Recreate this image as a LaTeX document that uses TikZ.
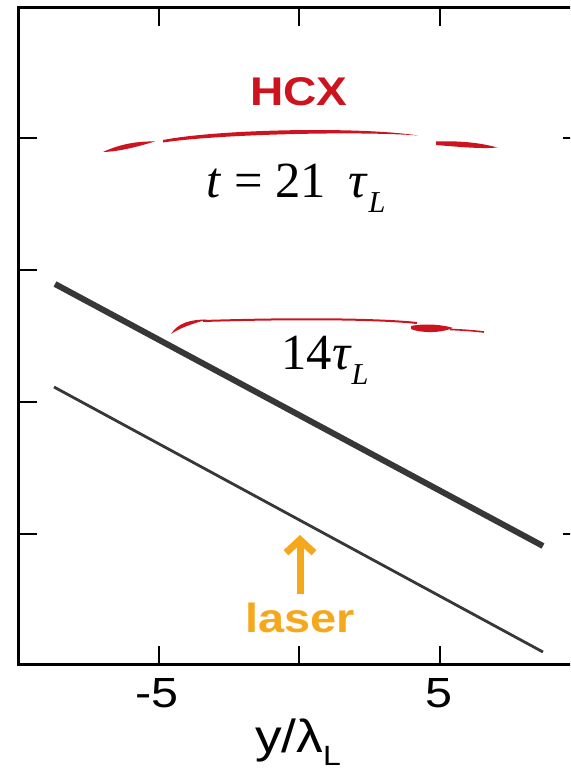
\documentclass[tikz,border=0pt]{standalone}
\usepackage{fontspec}
\setmainfont{Liberation Serif}
\setsansfont{Liberation Sans}
\usetikzlibrary{positioning, arrows.meta}
\definecolor{hcxRed}{RGB}{205, 20, 30}
\definecolor{laserGold}{RGB}{245, 168, 28}
\definecolor{lineGray}{RGB}{55, 55, 55}
\newcommand{\widetext}[1]{\scalebox{1.15}[1]{#1}}
\newcommand{\lowsub}[1]{\raisebox{-0.3em}{\scalebox{0.6}{#1}}}

\begin{document}
\begin{tikzpicture}[x=0.5mm, y=-0.5mm,
    frameline/.style={line width=1.5mm, black},
    tickline/.style={line width=1.2mm, black},
    tickLabel/.style={inner sep=0pt, font=\sffamily\fontsize{60}{66}\selectfont},
    axisLabel/.style={inner sep=0pt, font=\sffamily\fontsize{66}{72}\selectfont},
    timeLabel/.style={inner sep=0pt, font=\rmfamily\fontsize{72}{80}\selectfont},
    hcxLabel/.style={inner sep=0pt, text=hcxRed, font=\sffamily\bfseries\fontsize{57}{62}\selectfont},
    laserLabel/.style={inner sep=0pt, text=laserGold, font=\sffamily\bfseries\fontsize{58}{62}\selectfont},
    laserArrow/.style={line width=3.5mm, laserGold, -{Straight Barb[length=6.5mm, width=14mm]}}]
    \useasboundingbox (0,0) rectangle (570,776);
    \begin{scope}
        \clip (0,0) rectangle (570,776);
        % frame with ticks
        \draw[frameline] (580,8) -- (18,8) -- (18,664) -- (580,664);
        \foreach \x in {159,299,440} {
            \draw[tickline] (\x,8) -- (\x,26);
            \draw[tickline] (\x,664) -- (\x,646);
        }
        \foreach \y in {138,270,402,534}
            \draw[tickline] (18,\y) -- (37,\y);
        \foreach \y in {138,534}
            \draw[tickline] (563,\y) -- (580,\y);
    \end{scope}
    % fronts
    \draw[lineGray, line width=3mm] (55,284) -- (543,546);
    \draw[lineGray, line width=1.4mm] (54,387) -- (543,652);
    % HCX at 21 tau
    \fill[hcxRed] (103,152) .. controls (120,144) and (138,141) .. (155,141.5)
        .. controls (138,146.5) and (120,151.5) .. (103,152) -- cycle;
    \fill[hcxRed] (163,140) .. controls (220,129) and (360,126.5) .. (418,135.5)
        .. controls (360,131) and (220,134) .. (163,142.5) -- cycle;
    \fill[hcxRed] (436,141.5) .. controls (460,140.5) and (482,143) .. (497,147.5)
        .. controls (482,149) and (460,147) .. (436,145) -- cycle;
    % HCX at 14 tau
    \fill[hcxRed] (171,334) .. controls (178,323) and (190,319.5) .. (207,319.5)
        .. controls (190,324.5) and (180,328) .. (171,334) -- cycle;
    \draw[hcxRed, line width=1mm] (203,321) .. controls (300,318) and (380,319) .. (417,323);
    \fill[hcxRed] (411,326) .. controls (425,323) and (445,325) .. (453,328)
        .. controls (440,333.5) and (420,333) .. (411,329) -- cycle;
    \draw[hcxRed, line width=0.8mm] (450,329.5) .. controls (465,330) and (475,331) .. (484,332);
    % labels
    \node[hcxLabel, anchor=base] (hcx) at (299,105) {\widetext{HCX}};
    \node[timeLabel, anchor=base] (t21) at (296,197) {\textit{t} = 21\hspace{0.45em}\textit{τ}\lowsub{\textit{L}}};
    \node[timeLabel, anchor=base] (t14) at (325,369) {14\textit{τ}\lowsub{\textit{L}}};
    \node[laserLabel, anchor=base] (laser) at (300,632) {\widetext{laser}};
    \coordinate (laserTip) at (299,535);
    \draw[laserArrow, shorten <=4mm] (laser.north) -- (laser.north |- laserTip);
    % axis
    \node[tickLabel, anchor=base] (tkm5) at (157,707) {\widetext{-5}};
    \node[tickLabel, anchor=base] (tkp5) at (439,707) {\widetext{5}};
    \node[axisLabel, anchor=base] (ylab) at (298,752) {\scalebox{1.15}[1]{y/λ\lowsub{L}}};
\end{tikzpicture}
\end{document}
